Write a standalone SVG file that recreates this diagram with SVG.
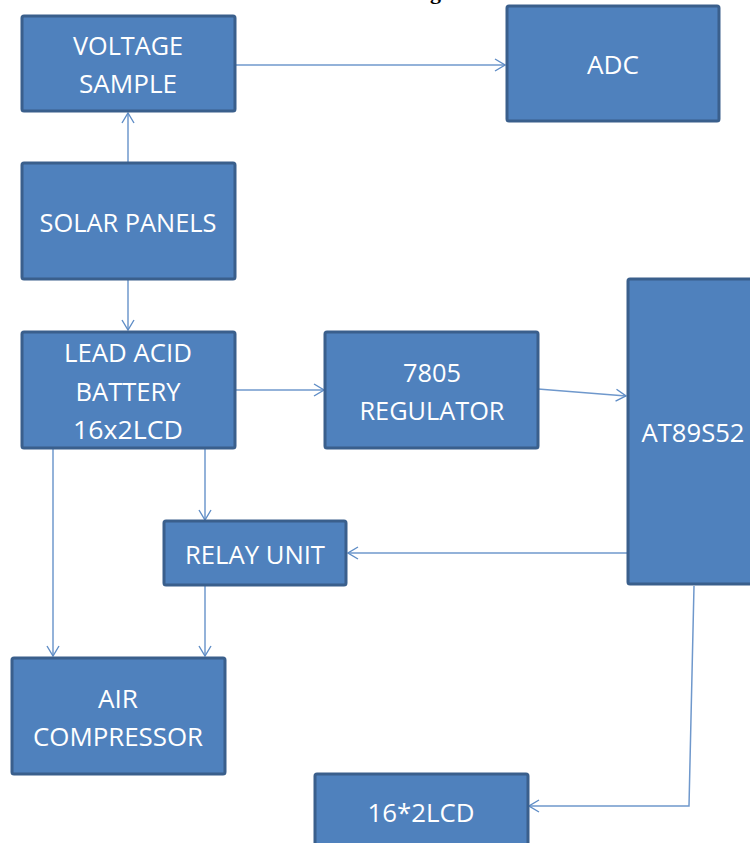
<svg xmlns="http://www.w3.org/2000/svg" width="750" height="843" viewBox="0 0 750 843">
<defs>
<marker id="arr" viewBox="0 0 12 14" refX="11" refY="7" markerWidth="12" markerHeight="14" markerUnits="userSpaceOnUse" orient="auto">
<path d="M1,1 L11,7 L1,13" fill="none" stroke="#5F8DC6" stroke-width="1.4"/>
</marker>
</defs>
<style>
.box{fill:#4F81BD;stroke:#3A5F8C;stroke-width:3}
.t{font-family:"Open Sans","Noto Sans",sans-serif;font-size:26px;fill:#FFFFFF;text-anchor:middle}
.c{fill:none;stroke:#6F98CC;stroke-width:1.5;marker-end:url(#arr)}
</style>
<rect width="750" height="843" fill="#FFFFFF"/>
<text x="430" y="-1" font-family="Liberation Serif, serif" font-weight="bold" font-size="22" fill="#000000">g</text>
<g id="connectors">
<line class="c" x1="236" y1="65" x2="505" y2="65"/>
<line class="c" x1="128" y1="163" x2="128" y2="113"/>
<line class="c" x1="128" y1="280" x2="128" y2="330"/>
<line class="c" x1="236" y1="390" x2="324" y2="390"/>
<line class="c" x1="538" y1="389" x2="626" y2="396"/>
<line class="c" x1="205" y1="448" x2="205" y2="520"/>
<line class="c" x1="53" y1="448" x2="53" y2="656"/>
<line class="c" x1="205" y1="586" x2="205" y2="656"/>
<line class="c" x1="627" y1="553" x2="348" y2="553"/>
<polyline class="c" points="694,586 689,806 529,806"/>
</g>
<g id="voltage-sample">
<rect class="box" x="22" y="16" width="213" height="95" rx="2"/>
<text class="t" x="128" y="55" textLength="110" lengthAdjust="spacingAndGlyphs">VOLTAGE</text>
<text class="t" x="128" y="93" textLength="98" lengthAdjust="spacingAndGlyphs">SAMPLE</text>
</g>
<g id="adc">
<rect class="box" x="507" y="6" width="212" height="115" rx="2"/>
<text class="t" x="613" y="74" textLength="52" lengthAdjust="spacingAndGlyphs">ADC</text>
</g>
<g id="solar-panels">
<rect class="box" x="22" y="163" width="213" height="116" rx="2"/>
<text class="t" x="128" y="232" textLength="177" lengthAdjust="spacingAndGlyphs">SOLAR PANELS</text>
</g>
<g id="lead-acid-battery">
<rect class="box" x="22" y="332" width="213" height="116" rx="2"/>
<text class="t" x="128" y="362" textLength="128" lengthAdjust="spacingAndGlyphs">LEAD ACID</text>
<text class="t" x="128" y="401" textLength="105" lengthAdjust="spacingAndGlyphs">BATTERY</text>
<text class="t" x="128" y="439" textLength="110" lengthAdjust="spacingAndGlyphs">16x2LCD</text>
</g>
<g id="regulator">
<rect class="box" x="325" y="332" width="213" height="116" rx="2"/>
<text class="t" x="432" y="382" textLength="58" lengthAdjust="spacingAndGlyphs">7805</text>
<text class="t" x="432" y="420" textLength="145" lengthAdjust="spacingAndGlyphs">REGULATOR</text>
</g>
<g id="at89s52">
<rect class="box" x="628" y="279" width="132" height="305" rx="2"/>
<text class="t" x="693" y="442" textLength="103" lengthAdjust="spacingAndGlyphs">AT89S52</text>
</g>
<g id="relay-unit">
<rect class="box" x="164" y="521" width="182" height="64" rx="2"/>
<text class="t" x="255" y="564" textLength="140" lengthAdjust="spacingAndGlyphs">RELAY UNIT</text>
</g>
<g id="air-compressor">
<rect class="box" x="12" y="658" width="213" height="116" rx="2"/>
<text class="t" x="118" y="708" textLength="40" lengthAdjust="spacingAndGlyphs">AIR</text>
<text class="t" x="118" y="746" textLength="170" lengthAdjust="spacingAndGlyphs">COMPRESSOR</text>
</g>
<g id="lcd">
<rect class="box" x="315" y="774" width="213" height="116" rx="2"/>
<text class="t" x="421" y="822" textLength="107" lengthAdjust="spacingAndGlyphs">16*2LCD</text>
</g>
</svg>
